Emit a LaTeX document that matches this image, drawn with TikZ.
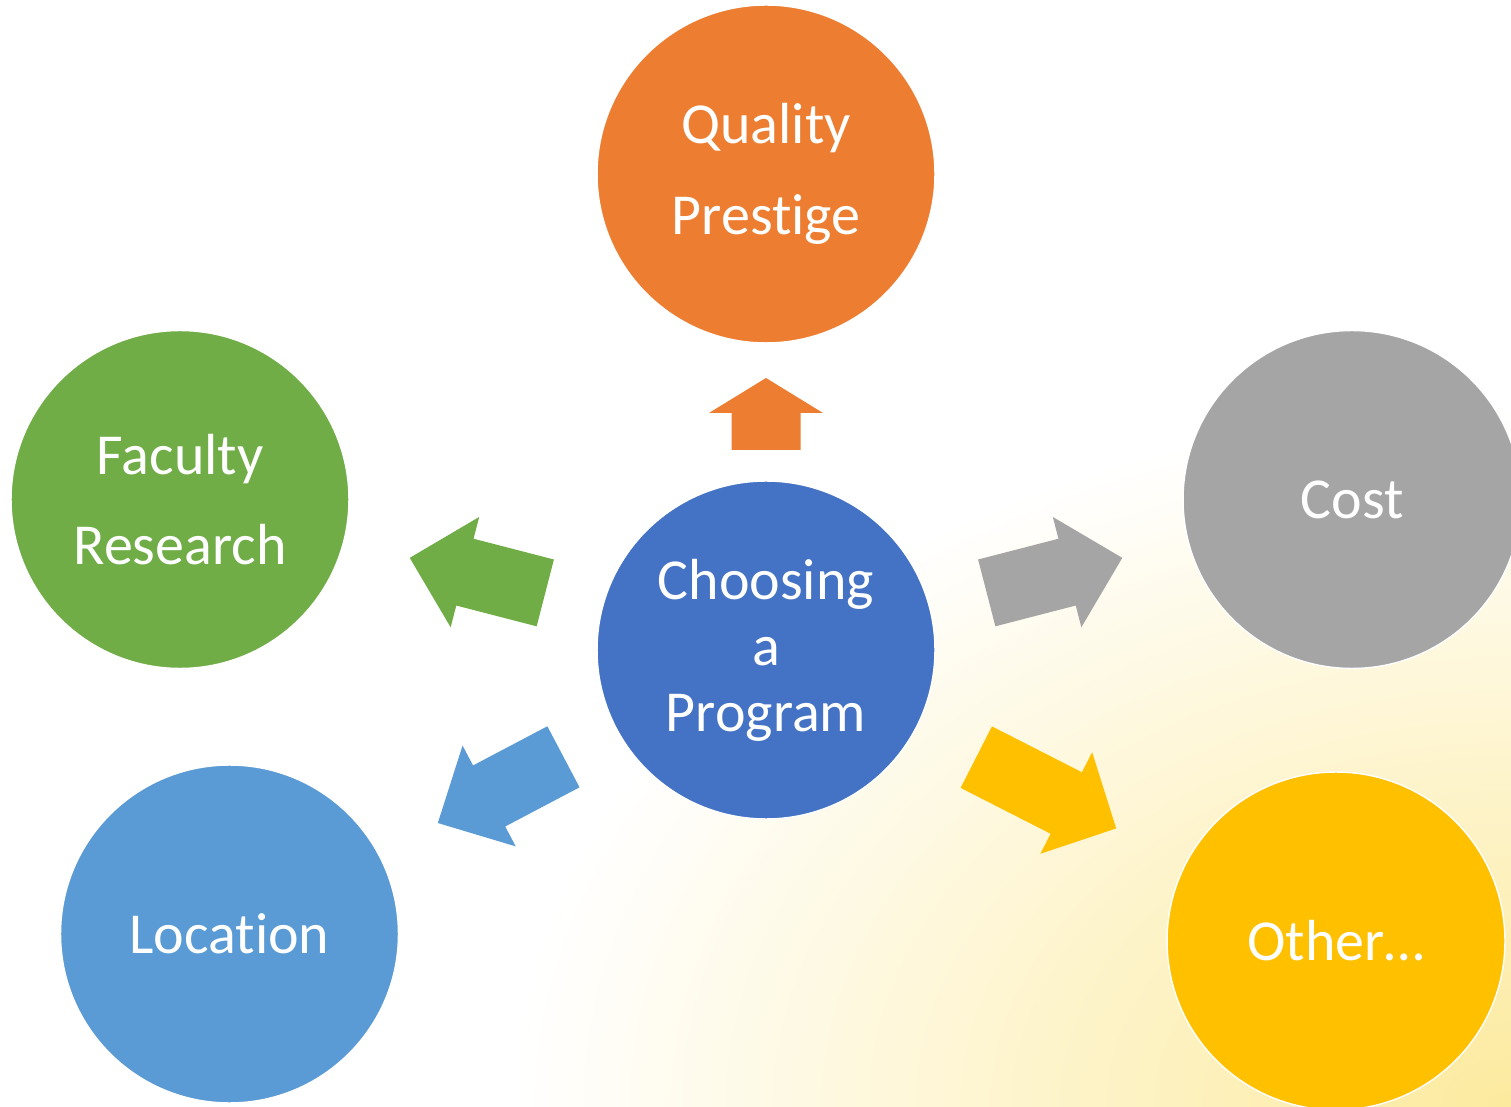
\documentclass[tikz,border=0pt]{standalone}
\usepackage{fontspec}
\setmainfont[Ligatures=NoCommon]{Carlito}
\definecolor{choosingblue}{RGB}{68,114,196}
\definecolor{qualityorange}{RGB}{237,125,49}
\definecolor{facultygreen}{RGB}{112,173,71}
\definecolor{costgray}{RGB}{165,165,165}
\definecolor{locationblue}{RGB}{91,155,213}
\definecolor{otheryellow}{RGB}{255,192,0}
\definecolor{glowyellow}{RGB}{252,234,158}
\pgfdeclareradialshading{cornerglow}{\pgfpoint{0bp}{0bp}}{color(0bp)=(glowyellow); color(25bp)=(white); color(50bp)=(white)}
\tikzset{bubble/.style={circle, draw=white, line width=0.8pt, minimum size=6.76cm, inner sep=0pt,
    text=white, align=center, font=\fontsize{33}{37.5}\selectfont}}

\begin{document}
\begin{tikzpicture}[x=0.02cm, y=0.02cm]
    \useasboundingbox (0,0) rectangle (1511,1106);

    % Draw the background glow.
    \begin{scope}
        \clip (0,0) rectangle (1511,1106);
        \fill[white] (0,0) rectangle (1511,1106);
        \shade[shading=cornerglow] (1511,0) ellipse (1000 and 700);
    \end{scope}

    % Draw the circles.
    \node[bubble, fill=choosingblue] (choose) at (766,456) {Choosing\\a\\Program};
    \node[bubble, fill=qualityorange] (quality) at (766,932) {Quality\\[14pt]Prestige};
    \node[bubble, fill=facultygreen] (faculty) at (180,606.5) {Faculty\\[14pt]Research};
    \node[bubble, fill=costgray] (cost) at (1352,606.5) {Cost};
    \node[bubble, fill=locationblue] (location) at (229.5,172) {Location};
    \node[bubble, fill=otheryellow] (other) at (1336,165) {Other…};

    % Draw block arrows out of the centre.
    \foreach \ang/\start/\len/\head/\col in {90/200/72/35/qualityorange,
            165.5/228/140/57/facultygreen, 14.5/228/140/57/costgray,
            207.8/229/142/58/locationblue, -27/236/157/56/otheryellow}
        \fill[fill=\col, shift={(choose.center)}, rotate=\ang]
            (\start,-34.5) -- ({\start+\len-\head},-34.5) -- ({\start+\len-\head},-57)
            -- ({\start+\len},0) -- ({\start+\len-\head},57) -- ({\start+\len-\head},34.5)
            -- (\start,34.5) -- cycle;
\end{tikzpicture}
\end{document}
